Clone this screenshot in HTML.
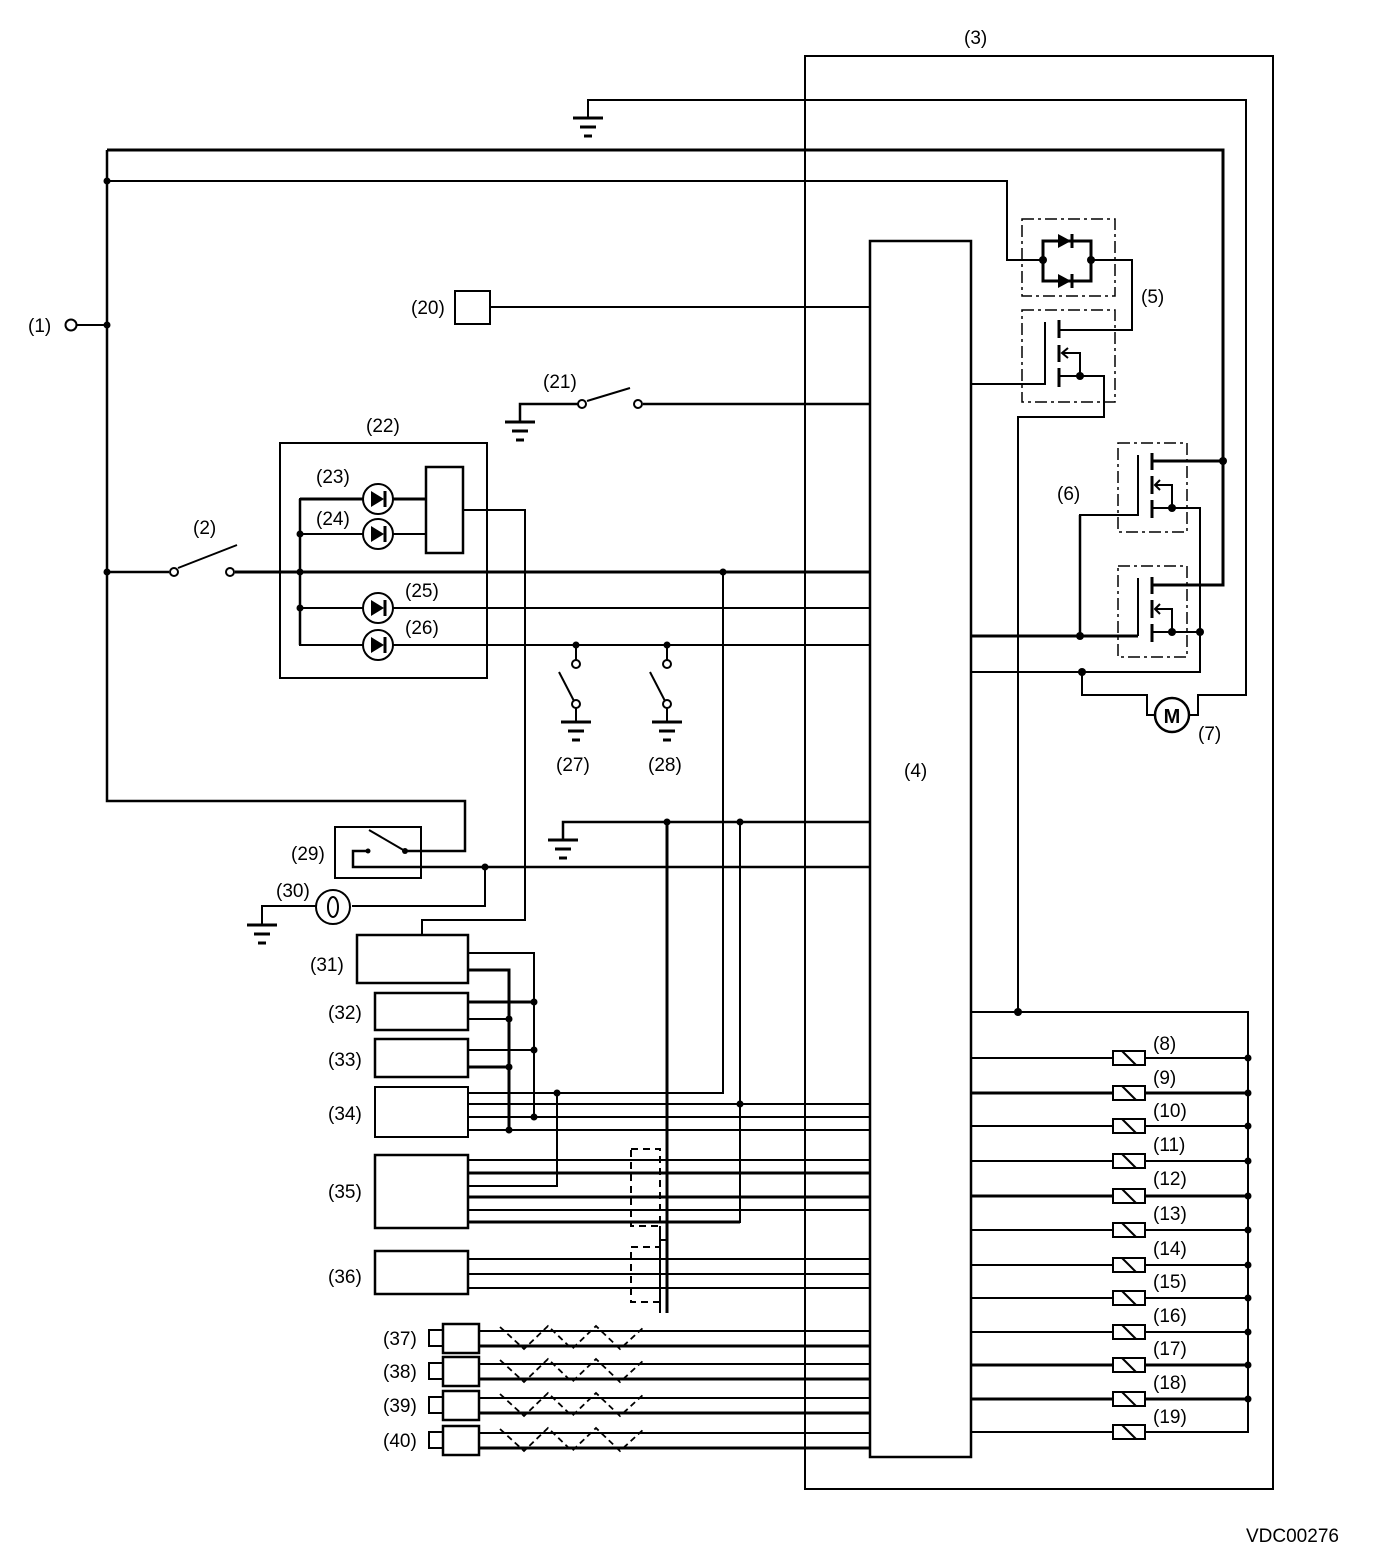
<!DOCTYPE html>
<html><head><meta charset="utf-8"><style>
html,body{margin:0;padding:0;background:#fff}
svg{display:block}
text{font-family:"Liberation Sans",Arial,sans-serif;font-size:19px;fill:#000}
</style></head><body>
<svg width="1392" height="1556" viewBox="0 0 1392 1556" xmlns="http://www.w3.org/2000/svg">
<defs>
<g id="gnd"><line x1="-15" y1="0" x2="15" y2="0" stroke="#000" stroke-width="3"/><line x1="-8" y1="9" x2="8" y2="9" stroke="#000" stroke-width="3"/><line x1="-4" y1="18" x2="4" y2="18" stroke="#000" stroke-width="3"/></g>
<g id="led"><circle r="15" fill="#fff" stroke="#000" stroke-width="2"/><polygon points="-7,-8 -7,8 6,0" fill="#000"/><line x1="7" y1="-8" x2="7" y2="8" stroke="#000" stroke-width="3"/></g>
<g id="sol"><rect x="-16" y="-7" width="32" height="14" fill="#fff" stroke="#000" stroke-width="2"/><line x1="-7" y1="-7" x2="7" y2="7" stroke="#000" stroke-width="2"/></g>
</defs>
<g fill="none" stroke="#000" stroke-width="2">
<rect x="805" y="56" width="468" height="1433"/>
<rect x="870" y="241" width="101" height="1216" stroke-width="2.5"/>
<polyline points="588,118 588,100 1246,100 1246,695 1198,695 1198,715 1189,715"/>
<polyline points="1082,672 1082,695 1147,695 1147,715 1155,715"/>
<polyline points="107,150 1223,150 1223,585 1152,585" stroke-width="3"/>
<line x1="1152" y1="461" x2="1223" y2="461" stroke-width="3"/>
<polyline points="107,181 1007,181 1007,260 1043,260"/>
<polyline points="1043,260 1043,241 1091,241 1091,281 1043,281 1043,260" stroke-width="3"/>
<polyline points="1091,260 1132,260 1132,330 1059,330"/>
<rect x="1022" y="219" width="93" height="77" stroke-dasharray="12,4,3,4" stroke-width="1.5"/>
<rect x="1022" y="310" width="93" height="92" stroke-dasharray="12,4,3,4" stroke-width="1.5"/>
<polyline points="971,384 1045,384 1045,322"/>
<line x1="1059" y1="320" x2="1059" y2="338" stroke-width="3"/>
<line x1="1059" y1="345" x2="1059" y2="362" stroke-width="3"/>
<line x1="1059" y1="368" x2="1059" y2="387" stroke-width="3"/>
<polyline points="1059,376 1104,376 1104,417 1018,417 1018,1012" />
<polyline points="1080,376 1080,353 1063,353"/>
<polyline points="1068,348 1062,353 1068,358"/>
<rect x="1118" y="443" width="69" height="89" stroke-dasharray="12,4,3,4" stroke-width="1.5"/>
<rect x="1118" y="566" width="69" height="91" stroke-dasharray="12,4,3,4" stroke-width="1.5"/>
<polyline points="1138,455 1138,515 1080,515 1080,636"/>
<line x1="1152" y1="453" x2="1152" y2="470" stroke-width="3"/>
<line x1="1152" y1="476" x2="1152" y2="494" stroke-width="3"/>
<line x1="1152" y1="500" x2="1152" y2="518" stroke-width="3"/>
<polyline points="1152,508 1200,508 1200,672 971,672"/>
<polyline points="1172,508 1172,485 1155,485"/><polyline points="1160,480 1155,485 1160,490"/>
<polyline points="1138,578 1138,636"/>
<line x1="971" y1="636" x2="1138" y2="636" stroke-width="3"/>
<line x1="1080" y1="515" x2="1080" y2="636" stroke-width="2.5"/>
<line x1="1152" y1="577" x2="1152" y2="594" stroke-width="3"/>
<line x1="1152" y1="600" x2="1152" y2="618" stroke-width="3"/>
<line x1="1152" y1="624" x2="1152" y2="642" stroke-width="3"/>
<line x1="1152" y1="632" x2="1200" y2="632"/>
<polyline points="1172,632 1172,609 1155,609"/><polyline points="1160,604 1155,609 1160,614"/>
<circle cx="1172" cy="715" r="17" fill="#fff" stroke-width="2.5"/>
<polyline points="971,1012 1248,1012 1248,1432 971,1432"/>
<line x1="971" y1="1058" x2="1248" y2="1058"/>
<line x1="971" y1="1093" x2="1248" y2="1093" stroke-width="3"/>
<line x1="971" y1="1126" x2="1248" y2="1126"/>
<line x1="971" y1="1161" x2="1248" y2="1161"/>
<line x1="971" y1="1196" x2="1248" y2="1196" stroke-width="3"/>
<line x1="971" y1="1230" x2="1248" y2="1230"/>
<line x1="971" y1="1265" x2="1248" y2="1265"/>
<line x1="971" y1="1298" x2="1248" y2="1298"/>
<line x1="971" y1="1332" x2="1248" y2="1332"/>
<line x1="971" y1="1365" x2="1248" y2="1365" stroke-width="3"/>
<line x1="971" y1="1399" x2="1248" y2="1399" stroke-width="3"/>
<line x1="76" y1="325" x2="107" y2="325"/>
<polyline points="107,150 107,801 465,801 465,851 405,851" stroke-width="2.5"/>
<line x1="107" y1="572" x2="169" y2="572" stroke-width="2.5"/>
<line x1="178" y1="568" x2="237" y2="545"/>
<line x1="235" y1="572" x2="870" y2="572" stroke-width="3"/>
<rect x="455" y="291" width="35" height="33"/>
<line x1="490" y1="307" x2="870" y2="307"/>
<polyline points="520,422 520,404 578,404" stroke-width="2.5"/>
<line x1="587" y1="401" x2="630" y2="388"/>
<line x1="643" y1="404" x2="870" y2="404" stroke-width="2.5"/>
<rect x="280" y="443" width="207" height="235"/>
<rect x="426" y="467" width="37" height="86" stroke-width="2.5"/>
<polyline points="426,499 300,499 300,645 870,645" stroke-width="2"/>
<line x1="300" y1="499" x2="426" y2="499" stroke-width="3"/>
<line x1="300" y1="534" x2="426" y2="534"/>
<line x1="300" y1="608" x2="870" y2="608"/>
<line x1="300" y1="499" x2="300" y2="645" stroke-width="2.5"/>
<polyline points="463,510 525,510 525,920 422,920 422,935"/>
<line x1="576" y1="645" x2="576" y2="660"/><line x1="559" y1="672" x2="574" y2="701"/><line x1="576" y1="708" x2="576" y2="722"/>
<line x1="667" y1="645" x2="667" y2="660"/><line x1="650" y1="672" x2="665" y2="701"/><line x1="667" y1="708" x2="667" y2="722"/>
<polyline points="723,572 723,1093 468,1093"/>
<polyline points="563,840 563,822 870,822" stroke-width="2.5"/>
<line x1="667" y1="822" x2="667" y2="1313" stroke-width="3"/>
<polyline points="740,822 740,1222 468,1222"/>
<rect x="335" y="827" width="86" height="51"/>
<line x1="369" y1="830" x2="405" y2="851"/>
<polyline points="368,851 353,851 353,867 870,867" stroke-width="2.5"/>
<polyline points="485,867 485,906 352,906"/>
<circle cx="333" cy="907" r="17"/>
<ellipse cx="333" cy="907" rx="5" ry="10"/>
<polyline points="316,906 262,906 262,925"/>
<rect x="357" y="935" width="111" height="48" stroke-width="2.5"/>
<rect x="375" y="993" width="93" height="37" stroke-width="2.5"/>
<rect x="375" y="1039" width="93" height="38" stroke-width="2.5"/>
<rect x="375" y="1087" width="93" height="50" stroke-width="2"/>
<rect x="375" y="1155" width="93" height="73" stroke-width="2.5"/>
<rect x="375" y="1251" width="93" height="43" stroke-width="2.5"/>
<polyline points="468,953 534,953 534,1117"/>
<polyline points="468,970 509,970 509,1130" stroke-width="3"/>
<line x1="468" y1="1002" x2="534" y2="1002" stroke-width="3"/>
<line x1="468" y1="1019" x2="509" y2="1019"/>
<line x1="468" y1="1050" x2="534" y2="1050"/>
<line x1="468" y1="1067" x2="509" y2="1067" stroke-width="3"/>
<line x1="468" y1="1104" x2="870" y2="1104"/>
<line x1="468" y1="1117" x2="870" y2="1117"/>
<line x1="468" y1="1130" x2="870" y2="1130"/>
<line x1="468" y1="1160" x2="870" y2="1160"/>
<line x1="468" y1="1173" x2="870" y2="1173" stroke-width="3"/>
<polyline points="468,1186 557,1186 557,1093"/>
<line x1="468" y1="1197" x2="870" y2="1197" stroke-width="3"/>
<line x1="468" y1="1210" x2="870" y2="1210"/>
<line x1="740" y1="1222" x2="468" y2="1222" stroke-width="3"/>
<line x1="468" y1="1259" x2="870" y2="1259"/>
<line x1="468" y1="1274" x2="870" y2="1274"/>
<line x1="468" y1="1288" x2="870" y2="1288"/>
<polyline points="631,1149 660,1149 660,1226 631,1226 631,1149" stroke-dasharray="7,5"/>
<polyline points="631,1247 660,1247 660,1302 631,1302 631,1247" stroke-dasharray="7,5"/>
<polyline points="660,1240 667,1240 M660,1313 667,1313"/>
<line x1="660" y1="1226" x2="660" y2="1313"/>
<g id="sens">
<rect x="429" y="1330" width="14" height="16"/>
<rect x="443" y="1324" width="36" height="29" stroke-width="2.5"/>
<line x1="479" y1="1331" x2="870" y2="1331"/>
<line x1="479" y1="1346" x2="870" y2="1346" stroke-width="3"/>
<polyline points="500,1327 524,1349 548,1326 572,1349 596,1326 620,1349 645,1326" stroke-dasharray="6,4" stroke-width="1.8"/>
</g>
<use href="#sens" y="33"/>
<use href="#sens" y="67"/>
<use href="#sens" y="102"/>
</g>
<polygon points="1058,234 1058,248 1071,241" fill="#000"/><line x1="1072" y1="234" x2="1072" y2="248" stroke="#000" stroke-width="3"/>
<polygon points="1058,274 1058,288 1071,281" fill="#000"/><line x1="1072" y1="274" x2="1072" y2="288" stroke="#000" stroke-width="3"/>
<use href="#led" x="378" y="499"/><use href="#led" x="378" y="534"/>
<use href="#led" x="378" y="608"/><use href="#led" x="378" y="645"/>
<use href="#gnd" x="588" y="118"/><use href="#gnd" x="520" y="422"/>
<use href="#gnd" x="576" y="722"/><use href="#gnd" x="667" y="722"/>
<use href="#gnd" x="563" y="840"/><use href="#gnd" x="262" y="925"/>
<use href="#sol" x="1129" y="1058"/><use href="#sol" x="1129" y="1093"/><use href="#sol" x="1129" y="1126"/>
<use href="#sol" x="1129" y="1161"/><use href="#sol" x="1129" y="1196"/><use href="#sol" x="1129" y="1230"/>
<use href="#sol" x="1129" y="1265"/><use href="#sol" x="1129" y="1298"/><use href="#sol" x="1129" y="1332"/>
<use href="#sol" x="1129" y="1365"/><use href="#sol" x="1129" y="1399"/><use href="#sol" x="1129" y="1432"/>
<g fill="#fff" stroke="#000" stroke-width="2">
<circle cx="71" cy="325" r="5.5"/><circle cx="174" cy="572" r="4"/><circle cx="230" cy="572" r="4"/>
<circle cx="582" cy="404" r="4"/><circle cx="638" cy="404" r="4"/>
<circle cx="576" cy="664" r="4"/><circle cx="576" cy="704" r="4"/>
<circle cx="667" cy="664" r="4"/><circle cx="667" cy="704" r="4"/>
</g>
<g fill="#000">
<circle cx="107" cy="181" r="3.5"/><circle cx="107" cy="325" r="3.5"/><circle cx="107" cy="572" r="3.5"/>
<circle cx="1043" cy="260" r="4"/><circle cx="1091" cy="260" r="4"/><circle cx="1080" cy="376" r="4"/>
<circle cx="1223" cy="461" r="4"/><circle cx="1172" cy="508" r="4"/><circle cx="1172" cy="632" r="4"/>
<circle cx="1200" cy="632" r="4"/><circle cx="1080" cy="636" r="4"/><circle cx="1082" cy="672" r="4"/>
<circle cx="1018" cy="1012" r="4"/>
<circle cx="1248" cy="1058" r="3.5"/><circle cx="1248" cy="1093" r="3.5"/><circle cx="1248" cy="1126" r="3.5"/>
<circle cx="1248" cy="1161" r="3.5"/><circle cx="1248" cy="1196" r="3.5"/><circle cx="1248" cy="1230" r="3.5"/>
<circle cx="1248" cy="1265" r="3.5"/><circle cx="1248" cy="1298" r="3.5"/><circle cx="1248" cy="1332" r="3.5"/>
<circle cx="1248" cy="1365" r="3.5"/><circle cx="1248" cy="1399" r="3.5"/>
<circle cx="300" cy="534" r="3.5"/><circle cx="300" cy="572" r="3.5"/><circle cx="300" cy="608" r="3.5"/>
<circle cx="723" cy="572" r="3.5"/><circle cx="576" cy="645" r="3.5"/><circle cx="667" cy="645" r="3.5"/>
<circle cx="667" cy="822" r="3.5"/><circle cx="740" cy="822" r="3.5"/><circle cx="485" cy="867" r="3.5"/>
<circle cx="368" cy="851" r="2.5"/><circle cx="405" cy="851" r="3"/>
<circle cx="534" cy="1002" r="3.5"/><circle cx="534" cy="1050" r="3.5"/><circle cx="534" cy="1117" r="3.5"/>
<circle cx="509" cy="1019" r="3.5"/><circle cx="509" cy="1067" r="3.5"/><circle cx="509" cy="1130" r="3.5"/>
<circle cx="557" cy="1093" r="3.5"/><circle cx="740" cy="1104" r="3.5"/>
</g>
<text x="1172" y="723" text-anchor="middle" style="font-weight:bold;font-size:20px">M</text>
<text x="964" y="44">(3)</text><text x="904" y="777">(4)</text>
<text x="1141" y="303">(5)</text><text x="1057" y="500">(6)</text><text x="1198" y="740">(7)</text>
<text x="1153" y="1050">(8)</text><text x="1153" y="1084">(9)</text><text x="1153" y="1117">(10)</text>
<text x="1153" y="1151">(11)</text><text x="1153" y="1185">(12)</text><text x="1153" y="1220">(13)</text>
<text x="1153" y="1255">(14)</text><text x="1153" y="1288">(15)</text><text x="1153" y="1322">(16)</text>
<text x="1153" y="1355">(17)</text><text x="1153" y="1389">(18)</text><text x="1153" y="1423">(19)</text>
<text x="28" y="332">(1)</text><text x="193" y="534">(2)</text>
<text x="411" y="314">(20)</text><text x="543" y="388">(21)</text><text x="366" y="432">(22)</text>
<text x="316" y="483">(23)</text><text x="316" y="525">(24)</text><text x="405" y="597">(25)</text><text x="405" y="634">(26)</text>
<text x="556" y="771">(27)</text><text x="648" y="771">(28)</text>
<text x="291" y="860">(29)</text><text x="276" y="897">(30)</text>
<text x="310" y="971">(31)</text><text x="328" y="1019">(32)</text><text x="328" y="1066">(33)</text>
<text x="328" y="1120">(34)</text><text x="328" y="1198">(35)</text><text x="328" y="1283">(36)</text>
<text x="383" y="1345">(37)</text><text x="383" y="1378">(38)</text><text x="383" y="1412">(39)</text><text x="383" y="1447">(40)</text>
<text x="1246" y="1542">VDC00276</text>
</svg>
</body></html>
